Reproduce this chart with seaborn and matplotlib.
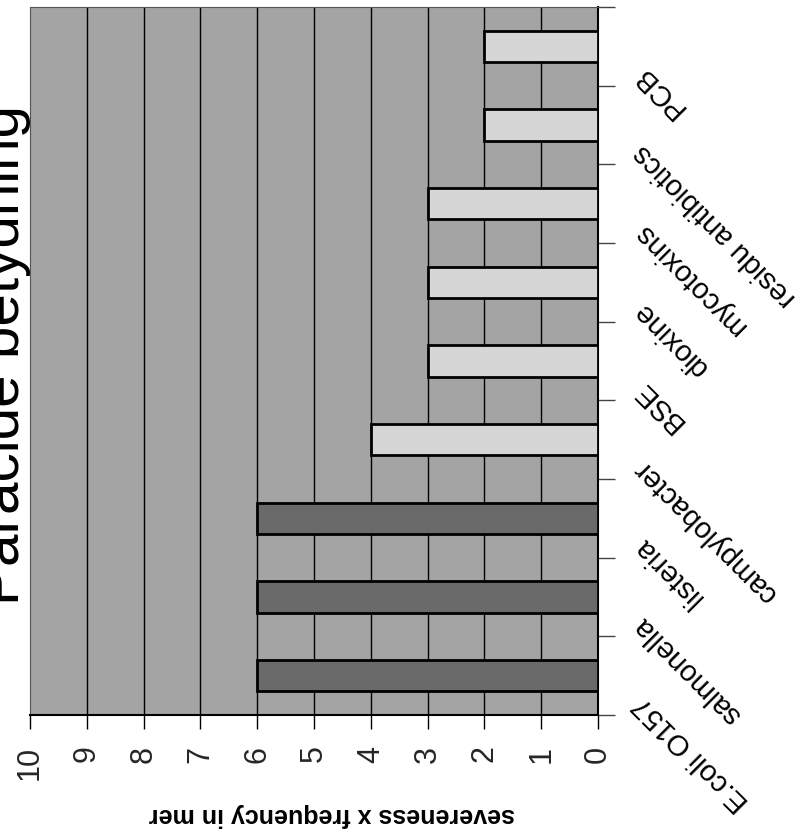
import matplotlib
matplotlib.use("Agg")
import matplotlib.pyplot as plt
import matplotlib.transforms as mtransforms
import seaborn as sns
import pandas as pd

categories = ["E.coli O157", "salmonella", "listeria", "campylobacter", "BSE",
              "dioxine", "mycotoxins", "residu antibiotics", "PCB"]
values = [6, 6, 6, 4, 3, 3, 3, 2, 2]
groups = ["micro", "micro", "micro", "chem", "chem", "chem", "chem", "chem", "chem"]
xticks = list(range(0, 11))
title = "Paracide betydning"
xlabel = "severeness x frequency in mer"

group_colors = {"micro": "#6a6a6a", "chem": "#d6d6d6"}

sns.set_theme(style="white")
plt.rcParams['font.family'] = ['Liberation Sans', 'DejaVu Sans']

df = pd.DataFrame({"cat": categories, "val": values, "grp": groups})
order = categories[::-1]

fig = plt.figure(figsize=(8.11, 8.36), dpi=100)
ax = fig.add_axes([30/811, 1-715/836, (598-30)/811, (715-7)/836])
ax.set_facecolor("#a4a4a4")

sns.barplot(data=df, x="val", y="cat", hue="grp", order=order,
            palette=group_colors, dodge=False, width=0.4, legend=False,
            edgecolor="black", linewidth=2, ax=ax, zorder=3)

ax.set_xlim(10, 0)
ax.set_ylim(len(categories) - 0.5, -0.5)
for v in xticks[1:-1]:
    ax.axvline(v, color="black", lw=1, zorder=1)

ax.set_xticks(xticks)
ax.set_xticklabels([str(t) for t in xticks], rotation=90, fontsize=22,
                   va="top", ha="center")
ax.tick_params(axis="x", direction="out", length=10, width=1, color="black",
               pad=12, bottom=True)

bounds = [i - 0.5 for i in range(len(categories) + 1)]
ax.yaxis.tick_right()
ax.set_yticks(bounds)
ax.set_yticklabels([])
ax.tick_params(axis="y", direction="out", length=12, width=1, color="#444444", right=True, left=False)

ax.set_xlabel("")
ax.set_ylabel("")
for side in ["top", "left"]:
    ax.spines[side].set_color("#555555")
    ax.spines[side].set_linewidth(0.8)
for side in ["bottom", "right"]:
    ax.spines[side].set_color("black")
    ax.spines[side].set_linewidth(1.5)

# rotated category labels
trans = mtransforms.offset_copy(ax.get_yaxis_transform(), fig=fig, x=40, y=-24, units="dots")
for i, cat in enumerate(order):
    ax.text(1.0, i, cat, transform=trans, rotation=135, rotation_mode="anchor",
            ha="right", va="center", fontsize=21, color="black")

fig.text(332/811, 1-815/836, xlabel, rotation=180, ha="center", va="center",
         fontsize=18, fontweight="bold", color="black")

fig.text(19/811, 1-605/836, title, rotation=90, rotation_mode="anchor",
         ha="left", va="baseline", fontsize=42, color="black")

fig.savefig("out.png", dpi=100, facecolor="white")
